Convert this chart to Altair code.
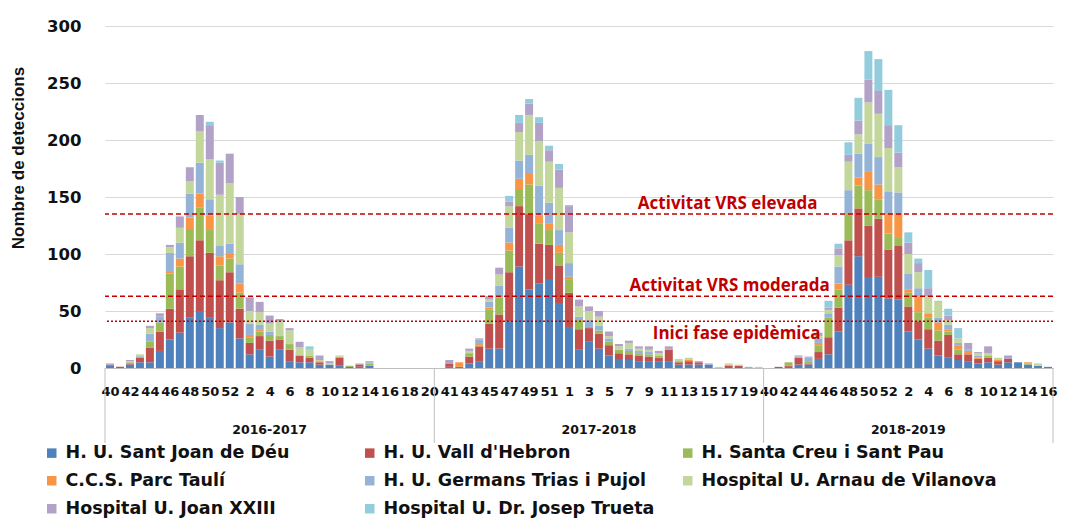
import altair as alt
import pandas as pd

# ---------------- data ----------------
seasons = ["2016-2017", "2017-2018", "2018-2019"]
weeks_2016_2017 = [40, 41, 42, 43, 44, 45, 46, 47, 48, 49, 50, 51, 52,
                   1, 2, 3, 4, 5, 6, 7, 8, 9, 10, 11, 12, 13, 14, 15, 16, 17, 18, 19, 20]
weeks_2017_2018 = [40, 41, 42, 43, 44, 45, 46, 47, 48, 49, 50, 51, 52,
                   1, 2, 3, 4, 5, 6, 7, 8, 9, 10, 11, 12, 13, 14, 15, 16, 17, 18, 19, 20]
weeks_2018_2019 = [40, 41, 42, 43, 44, 45, 46, 47, 48, 49, 50, 51, 52,
                   1, 2, 3, 4, 5, 6, 7, 8, 9, 10, 11, 12, 13, 14, 15, 16]

hospitals = ["H. U. Sant Joan de Déu", "H. U. Vall d'Hebron", "H. Santa Creu i Sant Pau",
             "C.C.S. Parc Taulí", "H. U. Germans Trias i Pujol", "Hospital U. Arnau de Vilanova",
             "Hospital U. Joan XXIII", "Hospital U. Dr. Josep Trueta"]
colors = ["#4F81BD", "#C0504D", "#9BBB59", "#F79646", "#95B3D7", "#C3D69B", "#B3A2C7", "#93CDDD"]

sant_joan_de_deu = (
    [2, 0, 3, 5, 5, 15, 25, 31, 44, 50, 44, 35, 40, 26, 12, 16, 10, 16, 6, 5, 5, 3, 3, 2, 1, 1, 2, 0, 0, 0, 0, 0, 0]
    + [0, 1, 1, 4, 6, 17, 17, 41, 89, 69, 74, 78, 57, 36, 16, 23, 17, 11, 8, 7, 6, 6, 6, 6, 3, 3, 3, 3, 0, 0, 0, 0, 0]
    + [0, 0, 1, 3, 3, 8, 12, 32, 73, 98, 79, 80, 61, 60, 32, 25, 17, 11, 9, 7, 6, 4, 5, 3, 5, 5, 3, 2, 1])
vall_hebron = (
    [1, 1, 1, 4, 13, 17, 27, 38, 54, 62, 57, 42, 44, 26, 10, 12, 14, 9, 10, 6, 4, 2, 0, 7, 0, 2, 0, 0, 0, 0, 0, 0, 0]
    + [0, 3, 0, 6, 13, 22, 30, 43, 53, 66, 35, 30, 33, 30, 18, 12, 13, 9, 5, 5, 5, 4, 3, 10, 2, 3, 2, 0, 0, 2, 2, 0, 0]
    + [0, 1, 1, 6, 1, 6, 15, 21, 39, 42, 46, 51, 43, 47, 22, 16, 17, 13, 20, 5, 6, 4, 4, 3, 3, 0, 0, 0, 0])
santa_creu_sant_pau = (
    [0, 0, 1, 1, 5, 8, 31, 20, 24, 29, 20, 13, 12, 14, 5, 4, 5, 3, 5, 0, 2, 0, 0, 0, 1, 0, 2, 0, 0, 0, 0, 0, 0]
    + [0, 0, 0, 3, 1, 12, 15, 19, 15, 26, 18, 13, 11, 12, 8, 1, 3, 3, 3, 3, 2, 2, 2, 0, 1, 0, 0, 0, 0, 0, 0, 0, 0]
    + [0, 0, 3, 0, 2, 6, 17, 16, 23, 20, 31, 17, 14, 7, 12, 8, 10, 9, 3, 4, 0, 0, 2, 0, 0, 0, 1, 0, 0])
parc_tauli = (
    [0, 0, 0, 0, 0, 0, 2, 7, 10, 12, 13, 8, 4, 8, 2, 2, 0, 0, 0, 0, 0, 1, 0, 1, 0, 0, 0, 0, 0, 0, 0, 0, 0]
    + [0, 0, 4, 0, 1, 2, 0, 7, 9, 10, 7, 6, 7, 2, 0, 0, 0, 0, 0, 0, 0, 0, 0, 0, 0, 1, 0, 0, 0, 1, 0, 0, 0]
    + [0, 0, 0, 0, 0, 2, 0, 5, 1, 7, 16, 13, 17, 22, 3, 14, 4, 7, 2, 4, 3, 1, 0, 1, 0, 0, 1, 0, 0])
germans_trias_pujol = (
    [0, 0, 0, 1, 7, 5, 16, 14, 21, 27, 14, 9, 9, 17, 10, 4, 3, 0, 0, 0, 0, 0, 0, 0, 0, 0, 1, 0, 0, 0, 0, 0, 0]
    + [0, 0, 0, 0, 4, 5, 10, 13, 16, 16, 26, 18, 13, 12, 3, 6, 4, 3, 0, 2, 2, 2, 0, 0, 0, 0, 0, 0, 0, 0, 0, 1, 0]
    + [0, 0, 0, 1, 3, 4, 4, 15, 20, 21, 25, 24, 20, 18, 14, 7, 0, 4, 4, 2, 1, 2, 0, 0, 0, 0, 0, 0, 0])
arnau_vilanova = (
    [0, 0, 1, 1, 5, 0, 5, 13, 11, 28, 35, 45, 53, 44, 11, 11, 7, 13, 12, 7, 5, 1, 1, 1, 0, 0, 0, 0, 0, 0, 0, 0, 0]
    + [0, 0, 0, 2, 0, 2, 10, 19, 25, 35, 39, 36, 37, 27, 9, 8, 8, 2, 3, 5, 2, 2, 2, 0, 2, 2, 0, 0, 1, 1, 1, 0, 1]
    + [0, 0, 0, 0, 0, 2, 3, 10, 25, 17, 36, 38, 38, 22, 17, 14, 15, 14, 4, 4, 0, 2, 2, 2, 0, 0, 0, 2, 0])
joan_xxiii = (
    [1, 0, 1, 0, 2, 3, 2, 10, 12, 14, 30, 28, 26, 15, 12, 9, 7, 2, 2, 5, 0, 4, 2, 0, 0, 1, 1, 0, 0, 0, 0, 0, 0]
    + [0, 3, 0, 2, 1, 3, 6, 4, 8, 10, 16, 10, 16, 23, 6, 4, 5, 4, 2, 2, 2, 3, 2, 3, 0, 0, 1, 1, 0, 0, 0, 0, 0]
    + [0, 0, 0, 1, 1, 3, 2, 6, 6, 12, 20, 20, 20, 13, 10, 8, 7, 0, 4, 0, 6, 1, 6, 0, 3, 0, 0, 0, 0])
josep_trueta = (
    [0, 0, 0, 0, 0, 0, 0, 0, 0, 0, 3, 2, 0, 0, 0, 0, 0, 0, 0, 0, 3, 0, 0, 0, 0, 0, 0, 0, 0, 0, 0, 0, 0]
    + [0, 0, 0, 0, 0, 0, 0, 5, 7, 4, 5, 4, 5, 1, 0, 0, 0, 0, 0, 0, 0, 0, 0, 0, 0, 0, 0, 0, 0, 0, 0, 0, 0]
    + [0, 0, 0, 0, 0, 0, 6, 4, 11, 20, 25, 28, 31, 24, 9, 4, 16, 1, 6, 9, 0, 0, 0, 0, 0, 0, 0, 0, 0])

threshold_values = [135, 63, 41]
threshold_labels = ["Activitat VRS elevada", "Activitat VRS moderada", "Inici fase epidèmica"]
threshold_kinds = ["dash", "dash", "dot"]

# ---------------- tables ----------------
series = [sant_joan_de_deu, vall_hebron, santa_creu_sant_pau, parc_tauli,
          germans_trias_pujol, arnau_vilanova, joan_xxiii, josep_trueta]
season_weeks = [weeks_2016_2017, weeks_2017_2018, weeks_2018_2019]
week_labels = weeks_2016_2017 + weeks_2017_2018 + weeks_2018_2019
n_cat = len(week_labels)

rows = []
for h_i, (name, vals) in enumerate(zip(hospitals, series)):
    for idx, v in enumerate(vals):
        if v > 0:
            rows.append({"idx": idx, "week": week_labels[idx], "hospital": name,
                         "order": h_i, "value": v})
df = pd.DataFrame(rows)

starts, s = [], 0
for w in season_weeks:
    starts.append(s)
    s += len(w)
season_df = pd.DataFrame({
    "season": seasons,
    "mid": [st + (len(w) - 1) / 2 for st, w in zip(starts, season_weeks)],
})
bounds_df = pd.DataFrame({"b": [-0.5] + [st + len(w) - 0.5 for st, w in zip(starts, season_weeks)]})

thr_df = pd.DataFrame({"value": threshold_values, "label": threshold_labels, "kind": threshold_kinds})
thr_df["anchor"] = [61.9, 62.1, 62.8]

W, H = 948, 342
xscale = alt.Scale(domain=[-0.5, n_cat - 0.5], nice=False, zero=False)
yscale = alt.Scale(domain=[0, 300], nice=False)
label_expr = "[" + ",".join(str(w) for w in week_labels) + "][datum.value]"
RED = "#C00000"
INK = "#111111"

x_axis = alt.Axis(
    values=list(range(0, n_cat, 2)), labelExpr=label_expr, title=None, grid=False,
    ticks=False, domainColor="#BFBFBF", labelFont="DejaVu Sans", labelFontWeight="bold",
    labelFontSize=13, labelPadding=17, labelOverlap=False, labelFlush=False,
    labelBound=False, labelColor=INK)
y_axis = alt.Axis(
    values=[0, 50, 100, 150, 200, 250, 300], title=None, domain=False, ticks=False,
    labelFont="DejaVu Sans", labelFontWeight="bold", labelFontSize=16.5,
    labelColor=INK, labelPadding=24, gridColor="#D9D9D9")

bars = alt.Chart(df).transform_calculate(
    x0="datum.idx - 0.4", x1="datum.idx + 0.4"
).transform_stack(
    stack="value", groupby=["idx"], as_=["y0", "y1"],
    sort=[alt.SortField("order", order="ascending")]
).mark_bar().encode(
    x=alt.X("x0:Q", scale=xscale, axis=x_axis),
    x2="x1:Q",
    y=alt.Y("y0:Q", scale=yscale, axis=y_axis),
    y2="y1:Q",
    color=alt.Color("hospital:N", scale=alt.Scale(domain=hospitals, range=colors),
                    legend=alt.Legend(title=None, orient="none", legendX=-62, legendY=418,
                                      direction="horizontal", columns=3, gridAlign="all",
                                      columnPadding=0, rowPadding=9, symbolType="square",
                                      symbolSize=90, symbolStrokeWidth=0,
                                      labelFont="DejaVu Sans", labelFontWeight="bold",
                                      labelFontSize=17.5, labelLimit=600, labelColor=INK,
                                      labelOffset=5)),
)

rules = alt.Chart(thr_df).mark_rule(color=RED, strokeWidth=1.5).encode(
    y=alt.Y("value:Q", scale=yscale, axis=y_axis),
    strokeDash=alt.StrokeDash("kind:N", scale=alt.Scale(domain=["dash", "dot"],
                                                         range=[[5, 3], [2, 2]]), legend=None),
)

upper_labels = alt.Chart(thr_df).transform_filter("datum.kind == 'dash'").mark_text(
    font="Open Sans", fontWeight="bold", fontSize=17, color=RED, baseline="alphabetic",
    align="center", dy=-5
).encode(
    x=alt.X("anchor:Q", scale=xscale, axis=x_axis),
    y=alt.Y("value:Q", scale=yscale, axis=y_axis),
    text="label:N",
)

lower_labels = alt.Chart(thr_df).transform_filter("datum.kind == 'dot'").mark_text(
    font="Open Sans", fontWeight="bold", fontSize=17, color=RED, baseline="alphabetic",
    align="center", dy=18
).encode(
    x=alt.X("anchor:Q", scale=xscale, axis=x_axis),
    y=alt.Y("value:Q", scale=yscale, axis=y_axis),
    text="label:N",
)

separators = alt.Chart(bounds_df).mark_rule(color="#BFBFBF", strokeWidth=1).encode(
    x=alt.X("b:Q", scale=xscale, axis=x_axis),
    y=alt.value(H),
    y2=alt.value(H + 75),
)

season_text = alt.Chart(season_df).mark_text(
    font="DejaVu Sans", fontWeight="bold", fontSize=12.5, color=INK, baseline="middle"
).encode(
    x=alt.X("mid:Q", scale=xscale, axis=x_axis),
    y=alt.value(H + 62),
    text="season:N",
)

y_title = alt.Chart(pd.DataFrame({"t": ["Nombre de deteccions"]})).mark_text(
    font="Liberation Sans", fontWeight="bold", fontSize=17, angle=270, color=INK,
    baseline="middle", align="center"
).encode(
    x=alt.value(-86),
    y=alt.value(132),
    text="t:N",
)

chart = alt.layer(bars, rules, upper_labels, lower_labels, separators, season_text, y_title).properties(
    width=W, height=H,
    autosize=alt.AutoSizeParams(type="none"),
    padding={"left": 97, "top": 18, "right": 5, "bottom": 152},
).configure_view(stroke=None)

chart.save("out.html", embed_options={"renderer": "svg", "actions": False})
